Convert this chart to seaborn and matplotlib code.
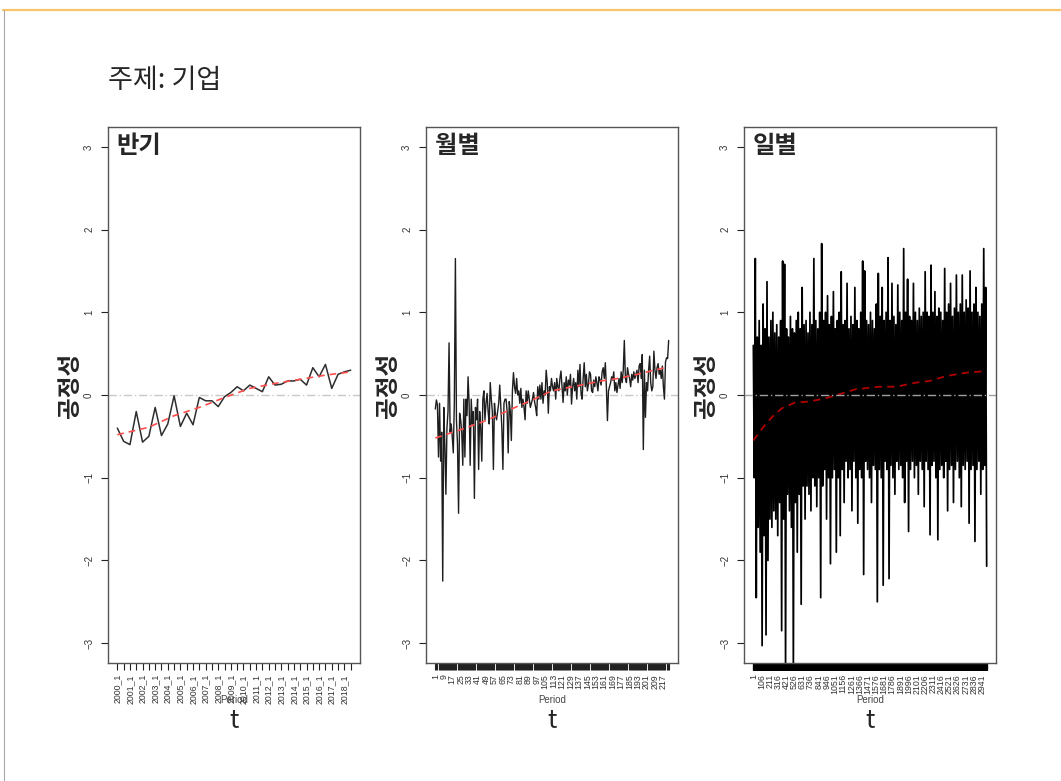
import numpy as np
import matplotlib
matplotlib.use("Agg")
import matplotlib.pyplot as plt
import seaborn as sns
from matplotlib.lines import Line2D

# ---- data ----
half_labels = [f"{y}_{h}" for y in range(2000, 2019) for h in (1, 2)]
half_vals = [-0.40, -0.56, -0.60, -0.20, -0.57, -0.50, -0.15, -0.49, -0.35, -0.01,
             -0.38, -0.22, -0.36, -0.03, -0.07, -0.07, -0.14, -0.02, 0.03, 0.10,
             0.05, 0.12, 0.08, 0.04, 0.22, 0.12, 0.13, 0.17, 0.17, 0.19,
             0.12, 0.33, 0.22, 0.37, 0.08, 0.25, 0.28, 0.30]
half_trend_idx = [1, 6, 10, 14, 18, 22, 26, 30, 34, 38]
half_trend_vals = [-0.48, -0.39, -0.25, -0.15, -0.03, 0.08, 0.14, 0.19, 0.24, 0.28]

month_vals = [
    -0.17, -0.06, -0.12, -0.75, -0.10, -0.80, -0.45, -2.25, -0.15, -0.60,
    -1.20, -0.40, -0.20, 0.63, -0.45, -0.35, -0.50, -0.70, -0.10, 1.65,
    -0.30, -0.60, -1.43, -0.22, -0.30, -0.45, -0.85, -0.05, -0.75, -0.05,
    -0.25, 0.22, -0.10, -0.85, -0.05, -0.35, -0.20, -1.25, -0.15, -0.30,
    -0.05, -0.90, -0.20, -0.40, -0.80, -0.05, 0.05, -0.30, -0.10, 0.02,
    -0.20, -0.35, 0.15, -0.05, -0.20, -0.90, -0.10, -0.25, -0.30, -0.20,
    -0.10, 0.12, -0.15, -0.40, -0.90, -0.10, -0.05, -0.05, -0.20, -0.70,
    -0.08, -0.20, -0.55, 0.05, 0.27, 0.10, 0.02, 0.20, 0.00, 0.05,
    -0.10, 0.08, -0.15, -0.05, -0.15, -0.30, 0.05, -0.10, 0.05, -0.05,
    -0.15, -0.10, -0.05, 0.03, -0.08, -0.15, -0.25, 0.10, -0.05, 0.12,
    -0.05, 0.15, -0.10, 0.05, 0.00, 0.30, 0.15, -0.22, 0.10, 0.05,
    0.20, 0.10, 0.05, 0.15, -0.05, 0.20, 0.10,
    0.05, 0.20, 0.29, 0.10, -0.09, 0.15, 0.05, 0.22, 0.00, 0.18,
    0.12, 0.25, -0.11, 0.10, 0.20, 0.05, 0.15, -0.05, 0.30, 0.10,
    0.37, 0.02, -0.05, 0.20, 0.39, 0.10, 0.25, 0.05, 0.13, 0.28,
    0.25, 0.05, 0.03, 0.18, 0.10, 0.22, 0.15, 0.05, 0.22, 0.18,
    0.12, 0.28, 0.33, 0.20, 0.39, 0.10, -0.31, 0.05, 0.10, 0.15,
    0.22, 0.18, 0.28, 0.05, 0.15, 0.03, 0.12, 0.20, 0.08, 0.28,
    0.15, 0.30, 0.66, 0.20, 0.15, 0.33, 0.25, 0.20, 0.10, 0.25,
    0.18, 0.28, 0.20, 0.25, 0.30, 0.15, 0.35, 0.38, 0.20, 0.49,
    -0.66, 0.30, -0.27, 0.15, 0.05, 0.30, 0.47, 0.15, 0.05, 0.10,
    0.53, 0.30, 0.20, 0.33, 0.38, 0.25, 0.30, 0.20, 0.35, 0.10,
    -0.05, 0.40, 0.45, 0.44, 0.66]
month_trend_idx = [1, 27, 49, 80, 93, 111, 127, 143, 158, 174, 189, 205, 222]
month_trend_vals = [-0.52, -0.41, -0.31, -0.13, -0.06, 0.05, 0.09, 0.13, 0.17,
                    0.20, 0.24, 0.29, 0.34]

n_days = 3000
# upper / lower swings of the daily series, sampled across the period
daily_high = [
    0.60, 1.65, 0.70, 0.90, 0.60, 1.10, 0.80, 1.37, 0.70, 0.90,
    1.00, 0.75, 0.85, 0.70, 0.90, 1.62, 1.58, 0.80, 0.70, 0.95,
    0.80, 0.75, 0.90, 1.00, 0.80, 1.30, 0.85, 0.90, 0.75, 1.00,
    0.85, 1.65, 0.90, 0.80, 1.00, 1.83, 0.90, 1.00, 1.20, 0.85,
    0.95, 1.25, 0.80, 0.90, 1.00, 1.49, 0.85, 0.90, 1.35, 0.80,
    0.95, 0.85, 1.30, 0.90, 0.80, 1.00, 1.62, 1.50, 0.90, 0.85,
    1.00, 0.90, 0.80, 1.10, 1.47, 0.95, 1.30, 0.90, 1.00, 1.66,
    0.90, 1.35, 0.95, 0.85, 1.33, 1.00, 0.90, 1.77, 1.00, 1.40,
    0.95, 0.90, 1.35, 1.00, 0.90, 1.05, 0.95, 1.00, 1.49, 1.00,
    0.95, 1.57, 1.00, 1.25, 0.95, 1.05, 1.00, 0.90, 1.53, 1.00,
    1.10, 1.35, 0.95, 1.05, 1.45, 1.00, 1.10, 1.45, 1.00, 1.15,
    1.05, 1.50, 1.00, 1.10, 1.30, 1.00, 0.95, 1.10, 1.77, 1.30]
daily_low = [
    -1.00, -2.45, -1.60, -1.90, -3.03, -1.70, -2.90, -2.00, -1.50, -1.60,
    -1.40, -1.50, -1.70, -1.30, -2.85, -1.50, -3.30, -1.20, -1.40, -1.60,
    -3.30, -1.30, -1.90, -1.20, -2.53, -1.10, -1.50, -1.10, -1.20, -1.40,
    -1.00, -1.10, -1.35, -1.00, -2.45, -1.10, -0.90, -1.50, -1.00, -2.04,
    -1.00, -0.90, -1.90, -1.00, -1.70, -0.90, -1.30, -0.80, -1.00, -0.90,
    -1.40, -0.80, -1.00, -1.55, -0.90, -1.00, -2.17, -0.80, -0.90, -1.00,
    -1.30, -0.85, -0.90, -2.50, -0.90, -1.00, -2.30, -0.80, -0.90, -2.22,
    -0.85, -1.00, -1.20, -0.80, -0.90, -0.85, -1.00, -1.30, -0.80, -1.65,
    -0.90, -0.80, -1.00, -0.85, -1.20, -0.80, -0.90, -1.35, -0.80, -0.90,
    -1.69, -0.85, -0.80, -1.00, -1.75, -0.90, -0.85, -1.00, -0.80, -1.40,
    -0.90, -0.85, -1.30, -0.90, -0.80, -1.00, -1.35, -0.85, -0.90, -0.80,
    -1.55, -0.90, -0.85, -1.77, -0.90, -0.80, -1.20, -0.90, -0.85, -2.07]
day_trend_idx = [1, 127, 238, 368, 541, 713, 929, 1145, 1318, 1620, 1836,
                 2095, 2267, 2483, 2742, 3000]
day_trend_vals = [-0.55, -0.39, -0.27, -0.16, -0.09, -0.08, -0.04, 0.02, 0.07,
                  0.10, 0.10, 0.15, 0.17, 0.23, 0.27, 0.29]

sns.set_theme(style="white")
plt.rcParams['font.family'] = ['Liberation Sans', 'Noto Sans CJK KR', 'DejaVu Sans']
KR = ['Noto Sans CJK KR', 'DejaVu Sans']

W, H = 1061, 781
fig = plt.figure(figsize=(W / 100, H / 100), dpi=100)
fig.patch.set_facecolor('white')

# frame lines from the slide screenshot
fig.add_artist(Line2D([3 / W, 1], [1 - 10 / H, 1 - 10 / H], color='#f7c46c', lw=1.6))
fig.add_artist(Line2D([3.5 / W, 3.5 / W], [0, 1 - 10 / H], color='#a8a8a8', lw=0.8))

fig.text(108 / W, 1 - 81 / H, "주제: 기업", family=KR, fontsize=19.5, fontweight='medium',
         va='center', ha='left')

ax_w, ax_h = 252 / W, 536 / H
ax_bottom = 1 - 663 / H
lefts = [108, 426, 744]


def setup_axis(ax, n, title, tick_labels, left_px):
    ax.set_facecolor('white')
    ax.set_xlim(1 - 0.04 * (n - 1), n + 0.04 * (n - 1))
    ax.set_ylim(-3.24, 3.24)
    ax.set_yticks(range(-3, 4))
    ax.set_yticklabels([str(v).replace('-', '\u2212') for v in range(-3, 4)],
                       rotation=90, va='center')
    ax.set_xticks(range(1, n + 1))
    ax.set_xticklabels(tick_labels, rotation=90)
    ax.tick_params(axis='both', which='major', direction='out', length=5, width=0.8,
                   color='#222222', labelsize=7, labelcolor='#333333', pad=3,
                   bottom=True, left=True)
    ax.tick_params(axis='x', labelsize=6.3)
    ax.tick_params(axis='y', pad=5)
    for s in ax.spines.values():
        s.set_color('#555555')
        s.set_linewidth(1.0)
    ax.set_xlabel('')
    ax.set_ylabel('')
    ax.text(0.035, 0.964, title, transform=ax.transAxes, family=KR, fontsize=17.5,
            fontweight='bold', va='center', ha='left')
    cx = (left_px + 126) / W
    fig.text(cx, 1 - 700 / H, "Period", fontsize=7, color='#444444', ha='center', va='center')
    fig.text(cx, 1 - 721 / H, "t", family=KR, fontsize=18, ha='center', va='center')
    fig.text((left_px - 38) / W, 1 - 385 / H, "공정성", family=KR, fontsize=17,
             fontweight='bold', rotation=90, ha='center', va='center')


zero_ls = (0, (6, 2, 1, 2))

# panel 1: half-year
ax1 = fig.add_axes([lefts[0] / W, ax_bottom, ax_w, ax_h])
half_x = np.arange(1, len(half_vals) + 1)
ax1.axhline(0, color='#c8c8c8', lw=1, ls=zero_ls)
sns.lineplot(x=half_x, y=half_vals, ax=ax1, color='#2e2e2e', lw=1.1, estimator=None)
sns.lineplot(x=half_trend_idx, y=half_trend_vals, ax=ax1, color='#ff4d4d', lw=1.2,
             linestyle=(0, (4, 3)), estimator=None)
labs1 = [lab if i % 2 == 0 else '' for i, lab in enumerate(half_labels)]
setup_axis(ax1, len(half_vals), "반기", labs1, lefts[0])

# panel 2: monthly
ax2 = fig.add_axes([lefts[1] / W, ax_bottom, ax_w, ax_h])
month_x = np.arange(1, len(month_vals) + 1)
ax2.axhline(0, color='#c8c8c8', lw=1, ls=zero_ls)
sns.lineplot(x=month_x, y=month_vals, ax=ax2, color='#1e1e1e', lw=1.0, estimator=None)
sns.lineplot(x=month_trend_idx, y=month_trend_vals, ax=ax2, color='#ff4d4d', lw=1.2,
             linestyle=(0, (4, 3)), estimator=None)
labs2 = [str(i) if (i - 1) % 8 == 0 else '' for i in month_x]
setup_axis(ax2, len(month_vals), "월별", labs2, lefts[1])

# panel 3: daily
ax3 = fig.add_axes([lefts[2] / W, ax_bottom, ax_w, ax_h])
day_vals = np.column_stack([daily_high, daily_low]).ravel()
day_x = np.linspace(1, n_days, len(day_vals))
sns.lineplot(x=day_x, y=day_vals, ax=ax3, color='black', lw=1.25, estimator=None, sort=False)
sns.lineplot(x=day_trend_idx, y=day_trend_vals, ax=ax3, color='#b00000', lw=1.3,
             linestyle=(0, (4, 3)), estimator=None)
ax3.axhline(0, color='#a0a0a0', lw=1, ls=zero_ls)
labs3 = [str(i) if (i - 1) % 105 == 0 else '' for i in range(1, n_days + 1)]
setup_axis(ax3, n_days, "일별", labs3, lefts[2])
ax3.tick_params(axis='x', color='black')

fig.savefig("out.png", dpi=100, facecolor='white')
